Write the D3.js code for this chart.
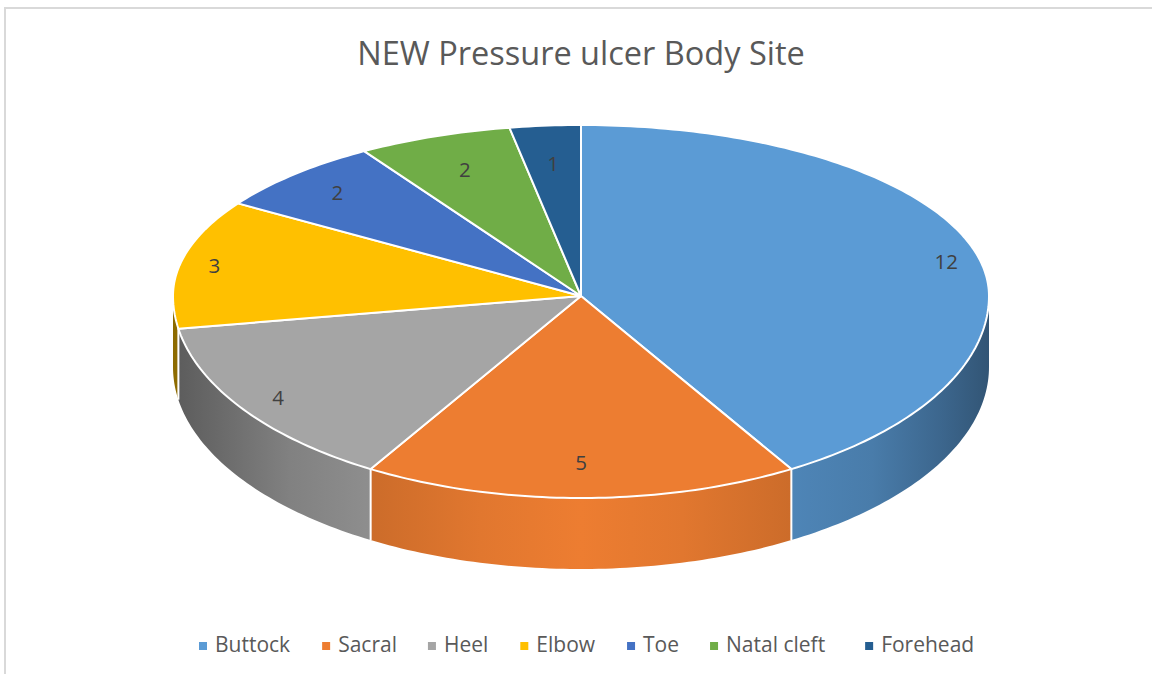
<!DOCTYPE html>
<html><head><meta charset="utf-8">
<script src="https://cdn.jsdelivr.net/npm/d3@7/dist/d3.min.js"></script>
<style>html,body{margin:0;padding:0;background:#fff;overflow:hidden}text{font-family:"Open Sans",sans-serif}</style>
</head><body><svg id="c" width="1152" height="674"></svg>
<script>
const titleText = "NEW Pressure ulcer Body Site";
const categories = ["Buttock","Sacral","Heel","Elbow","Toe","Natal cleft","Forehead"];
const values = [12,5,4,3,2,2,1];
const colors = ["#5b9bd5","#ed7d31","#a5a5a5","#ffc000","#4472c4","#70ad47","#255e91"];

const W=1152,H=674,cx=581,cy=296,rx=408,ryTop=171,ryBottom=202,depth=71;
const labelFraction=[.917,.827,.897,.915,.85,.79,.775];
const legendGap=[32,31,32,32,31,40,0];
const svg=d3.select("#c");

// perspective warp of the pie angle (degrees), as Excel's 3-D pie draws it
const warp=d3.scaleLinear()
 .domain([0,12.41,37.24,62.07,74.48,90,149,211,261,270,297.93,322.76,347.59,360])
 .range([0,10.1,32.1,57.2,77.5,90,149,211,261,270,302.8,327.9,349.9,360]);
const pt=(deg,dy=0,f=1)=>{const t=deg*Math.PI/180,c=Math.cos(t);
 return [cx+rx*f*Math.sin(t),cy+dy-(c>=0?ryTop:ryBottom)*f*c];};
const arcs=d3.pie().sort(null).value(d=>d)(values).map((a,i)=>({
 i,a0:warp(a.startAngle*180/Math.PI),a1:warp(a.endAngle*180/Math.PI),
 mid:warp((a.startAngle+a.endAngle)*90/Math.PI)}));
const line=d3.line();
const sweep=(a,b,dy=0)=>{const n=Math.max(2,Math.ceil(Math.abs(b-a)));return d3.range(n+1).map(k=>pt(a+(b-a)*k/n,dy));};

// frame
svg.append("path").attr("d",`M5,${H}V8H${W}`).attr("fill","none").attr("stroke","#d9d9d9").attr("stroke-width",2);

// wall shading depends on horizontal position only
const shade=[[173,.55],[220,.64],[290,.78],[371,.86],[480,.95],[581,1],[682,.95],[791,.86],[872,.8],[942,.66],[989,.55]];
const defs=svg.append("defs");
arcs.forEach(d=>{const g=defs.append("linearGradient").attr("id","w"+d.i)
 .attr("gradientUnits","userSpaceOnUse").attr("x1",173).attr("x2",989).attr("y1",0).attr("y2",0);
 const c=d3.rgb(colors[d.i]);
 shade.forEach(([x,s])=>g.append("stop").attr("offset",(x-173)/816)
  .attr("stop-color",d3.rgb(c.r*s,c.g*s,c.b*s).formatHex()));});

// walls
arcs.forEach(d=>{const a=Math.max(d.a0,90),b=Math.min(d.a1,270);if(b<=a)return;
 const pts=sweep(a,b).concat(sweep(b,a,depth));
 svg.append("path").attr("d",line(pts)+"Z").attr("fill",`url(#w${d.i})`);});
arcs.forEach(d=>{if(d.a1>90&&d.a1<270){const p=pt(d.a1),q=pt(d.a1,depth);
 svg.append("line").attr("x1",p[0]).attr("y1",p[1]).attr("x2",q[0]).attr("y2",q[1])
  .attr("stroke","#fff").attr("stroke-width",2);}});

// top faces
arcs.forEach(d=>{svg.append("path").attr("d",line([[cx,cy],...sweep(d.a0,d.a1)])+"Z")
 .attr("fill",colors[d.i]).attr("stroke","#fff").attr("stroke-width",2).attr("stroke-linejoin","round");});

// data labels
arcs.forEach(d=>{const p=pt(d.mid,0,labelFraction[d.i]);
 svg.append("text").attr("x",p[0]).attr("y",p[1]+7).attr("text-anchor","middle")
  .attr("font-size",20.5).attr("fill","#404040").text(values[d.i]);});

// title
svg.append("text").attr("x",581).attr("y",65).attr("text-anchor","middle")
 .attr("font-size",32.5).attr("fill","#595959").text(titleText);

// legend
let lx=199;
categories.forEach((name,i)=>{
 svg.append("rect").attr("x",lx).attr("y",642).attr("width",8).attr("height",8).attr("fill",colors[i]);
 const t=svg.append("text").attr("x",lx+16).attr("y",652).attr("font-size",21).attr("fill","#595959").text(name);
 lx+=16+t.node().getComputedTextLength()+legendGap[i];
});
</script></body></html>
